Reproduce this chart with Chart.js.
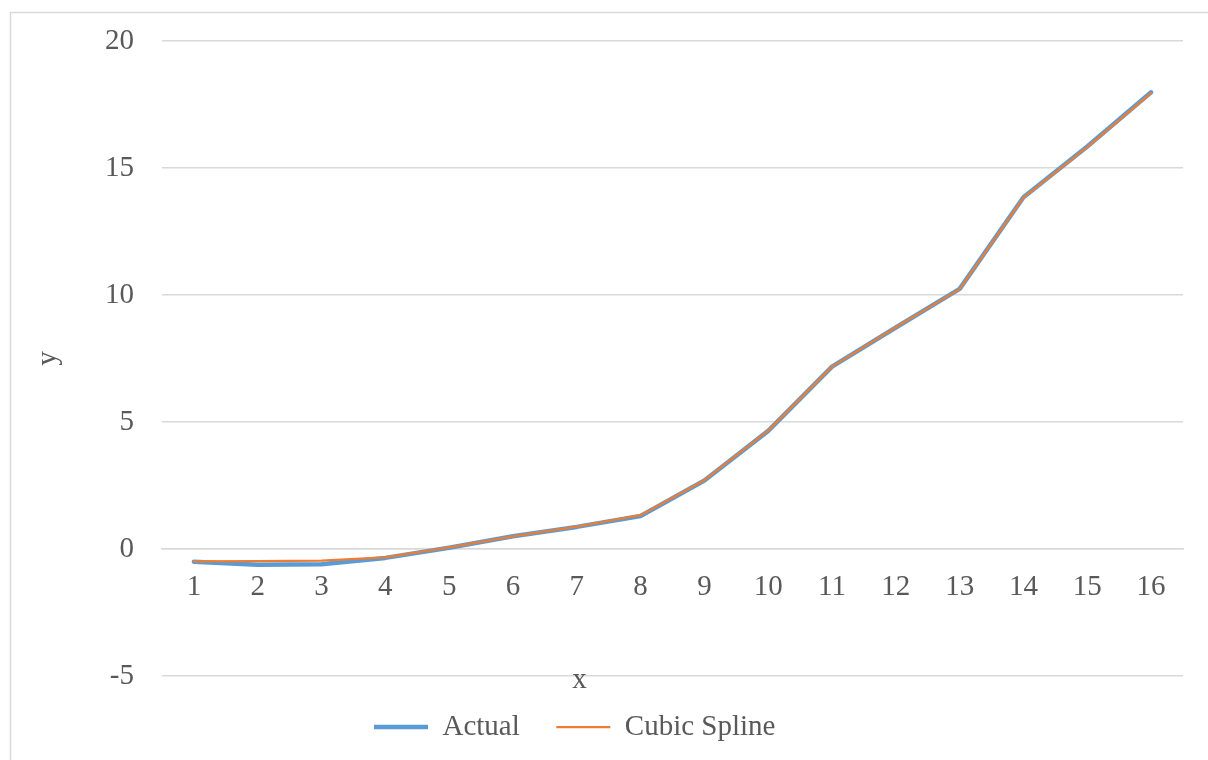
<!DOCTYPE html>
<html>
<head>
<meta charset="utf-8">
<title>Actual vs Cubic Spline</title>
<script src="https://cdn.jsdelivr.net/npm/chart.js@4/dist/chart.umd.min.js"></script>
<style>
  html, body { margin: 0; padding: 0; background: #ffffff; }
  #wrap { position: relative; width: 1208px; height: 760px; }
</style>
</head>
<body>
<div id="wrap"><canvas id="chart" width="1208" height="760"></canvas></div>
<script>
// x categories and the two series
const categories = ['1', '2', '3', '4', '5', '6', '7', '8', '9', '10', '11', '12', '13', '14', '15', '16'];
const actualValues = [-0.5, -0.62, -0.6, -0.35, 0.05, 0.5, 0.87, 1.3, 2.7, 4.65, 7.18, 8.72, 10.24, 13.85, 15.85, 17.98];
const splineValues = [-0.49, -0.48, -0.46, -0.33, 0.06, 0.5, 0.88, 1.33, 2.71, 4.66, 7.18, 8.73, 10.23, 13.83, 15.82, 17.95];
const yTicks = [-5, 0, 5, 10, 15, 20];

const FONT_FAMILY = '"Liberation Serif", "Times New Roman", serif';
const TEXT_COLOR = '#595959';
const GRID_COLOR = '#d9d9d9';

// Outer chart frame
const framePlugin = {
  id: 'frame',
  beforeDraw(chart) {
    const ctx = chart.ctx;
    ctx.save();
    ctx.fillStyle = '#ffffff';
    ctx.fillRect(0, 0, chart.width, chart.height);
    ctx.strokeStyle = GRID_COLOR;
    ctx.lineWidth = 1.5;
    ctx.strokeRect(10.5, 12.5, chart.width + 20, chart.height + 20);
    ctx.restore();
  }
};

// Horizontal axis title, placed below the plot
const xTitlePlugin = {
  id: 'xTitle',
  afterDraw(chart) {
    const ctx = chart.ctx;
    ctx.save();
    ctx.font = '29px ' + FONT_FAMILY;
    ctx.fillStyle = TEXT_COLOR;
    ctx.textAlign = 'center';
    ctx.textBaseline = 'alphabetic';
    ctx.fillText('x', 579.5, 688);
    ctx.restore();
  }
};

// Put the legend row where the items start at a fixed x
const legendShiftPlugin = {
  id: 'legendShift',
  afterLayout(chart) {
    const lg = chart.legend;
    if (!lg || !lg.lineWidths) return;
    const pad = lg.options.labels.padding;
    const start = (lg.left + pad + lg.right - lg.lineWidths[0]) / 2;
    const d = 374 - start;
    lg.left += d;
    lg.right += d;
  }
};

new Chart(document.getElementById('chart'), {
  type: 'line',
  data: {
    labels: categories,
    datasets: [
      {
        label: 'Actual',
        data: actualValues,
        borderColor: '#5b9bd5',
        backgroundColor: '#5b9bd5',
        borderWidth: 4.5,
        pointRadius: 0,
        borderCapStyle: 'round',
        borderJoinStyle: 'round',
        tension: 0,
        order: 2
      },
      {
        label: 'Cubic Spline',
        data: splineValues,
        borderColor: '#ed7d31',
        backgroundColor: '#ed7d31',
        borderWidth: 2.25,
        pointRadius: 0,
        borderCapStyle: 'round',
        borderJoinStyle: 'round',
        tension: 0,
        order: 1
      }
    ]
  },
  options: {
    responsive: false,
    animation: false,
    devicePixelRatio: 1,
    layout: { padding: { left: 10, right: 25, top: 41, bottom: 8.5 } },
    plugins: {
      tooltip: { enabled: false },
      legend: {
        display: true,
        position: 'bottom',
        labels: {
          usePointStyle: true,
          pointStyle: 'line',
          pointStyleWidth: 54,
          padding: 36.5,
          color: TEXT_COLOR,
          font: { family: FONT_FAMILY, size: 29 },
          sort: (a, b) => a.datasetIndex - b.datasetIndex
        }
      }
    },
    scales: {
      x: {
        type: 'category',
        position: { y: 0 },
        offset: true,
        grid: { display: false, drawTicks: false },
        border: { display: true, color: GRID_COLOR, width: 1.5 },
        ticks: {
          autoSkip: false,
          maxRotation: 0,
          padding: 21,
          color: TEXT_COLOR,
          font: { family: FONT_FAMILY, size: 29 }
        }
      },
      y: {
        type: 'linear',
        position: 'left',
        min: yTicks[0],
        max: yTicks[yTicks.length - 1],
        afterBuildTicks: (scale) => { scale.ticks = yTicks.map(v => ({ value: v })); },
        afterFit: (scale) => {
          scale.width = 152;
          scale.paddingTop = 0;
          scale.paddingBottom = 0;
        },
        grid: { color: GRID_COLOR, lineWidth: 1.5, drawTicks: false },
        border: { display: false },
        ticks: {
          padding: 28,
          color: TEXT_COLOR,
          font: { family: FONT_FAMILY, size: 29 }
        },
        title: {
          display: true,
          text: 'y',
          color: TEXT_COLOR,
          font: { family: FONT_FAMILY, size: 29 },
          padding: { top: 20.6, bottom: 0 }
        }
      }
    }
  },
  plugins: [framePlugin, xTitlePlugin, legendShiftPlugin]
});
</script>
</body>
</html>
